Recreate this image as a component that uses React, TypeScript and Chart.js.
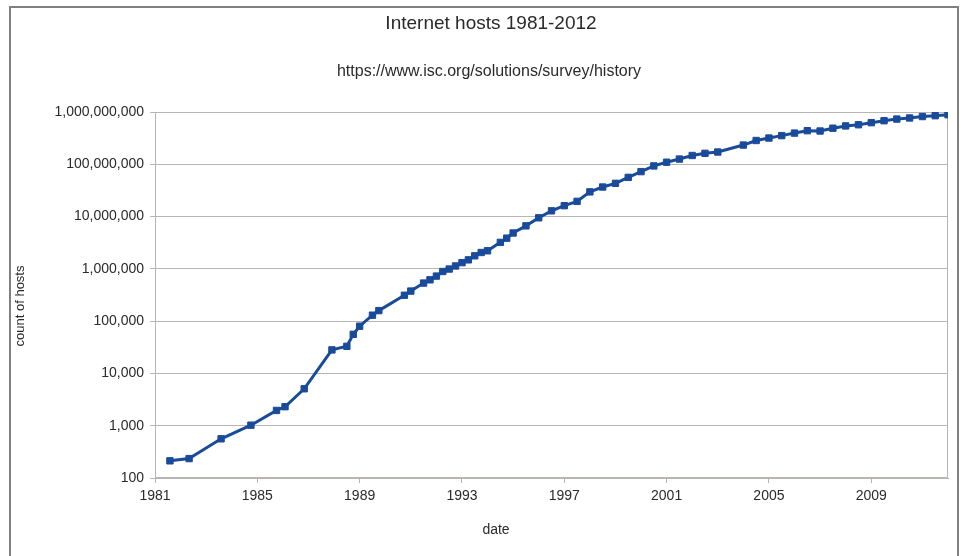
import React, { useEffect, useRef } from 'react';
import { Chart, registerables } from 'chart.js';
Chart.register(...registerables);

const TITLE = 'Internet hosts 1981-2012';
const SUBTITLE = 'https://www.isc.org/solutions/survey/history';
const X_TITLE = 'date';
const Y_TITLE = 'count of hosts';

const dates = [
  '1981-08', '1982-05', '1983-08', '1984-10', '1985-10', '1986-02', '1986-11', '1987-12',
  '1988-07', '1988-10', '1989-01', '1989-07', '1989-10', '1990-10', '1991-01', '1991-07',
  '1991-10', '1992-01', '1992-04', '1992-07', '1992-10', '1993-01', '1993-04', '1993-07',
  '1993-10', '1994-01', '1994-07', '1994-10', '1995-01', '1995-07', '1996-01', '1996-07',
  '1997-01', '1997-07', '1998-01', '1998-07', '1999-01', '1999-07', '2000-01', '2000-07',
  '2001-01', '2001-07', '2002-01', '2002-07', '2003-01', '2004-01', '2004-07', '2005-01',
  '2005-07', '2006-01', '2006-07', '2007-01', '2007-07', '2008-01', '2008-07', '2009-01',
  '2009-07', '2010-01', '2010-07', '2011-01', '2011-07', '2012-01',
];

const hosts = [
  213, 235, 562, 1024, 1961, 2308, 5089, 28174,
  33000, 56000, 80000, 130000, 159000, 313000, 376000, 535000,
  617000, 727000, 890000, 992000, 1136000, 1313000, 1486000, 1776000,
  2056000, 2217000, 3212000, 3864000, 4852000, 6642000, 9472000, 12881000,
  16146000, 19540000, 29670000, 36739000, 43230000, 56218000, 72398092, 93047785,
  109574429, 125888197, 147344723, 162128493, 171638297, 233101481, 285139107, 317646084,
  353284187, 394991609, 439286364, 433193199, 489774269, 541677360, 570937778, 625226456,
  681064561, 732740444, 768913036, 818374269, 849869781, 888239420,
];

const xTicks = [1981, 1985, 1989, 1993, 1997, 2001, 2005, 2009];
const yTicks = [100, 1000, 10000, 100000, 1000000, 10000000, 100000000, 1000000000];

const FONT = '"Liberation Sans", Arial, sans-serif';
const LINE = '#1a4b9b';
const GRID = '#b9b5b3';
const TEXT = '#2a2a2a';

const yearFrac = (d: string) => {
  const [y, m] = d.split('-').map(Number);
  return y + (m - 1) / 12;
};

const points = dates.map((d, i) => ({ x: yearFrac(d), y: hosts[i] }));

const decor = {
  id: 'decor',
  beforeDraw(chart: any) {
    const ctx = chart.ctx;
    ctx.save();
    ctx.fillStyle = '#ffffff';
    ctx.fillRect(0, 0, chart.width, chart.height);
    ctx.restore();
  },
  beforeDatasetsDraw(chart: any) {
    const { ctx, chartArea: a } = chart;
    ctx.save();
    ctx.strokeStyle = GRID;
    ctx.lineWidth = 1;
    ctx.strokeRect(a.left + 0.5, a.top + 0.5, a.right - a.left - 1, a.bottom - a.top - 1);
    ctx.restore();
  },
  afterDraw(chart: any) {
    const ctx = chart.ctx;
    ctx.save();
    // outer frame
    ctx.strokeStyle = '#808080';
    ctx.lineWidth = 2;
    ctx.beginPath();
    ctx.moveTo(10, chart.height);
    ctx.lineTo(10, 7);
    ctx.lineTo(958, 7);
    ctx.lineTo(958, chart.height);
    ctx.stroke();
    // titles
    ctx.fillStyle = TEXT;
    ctx.textAlign = 'center';
    ctx.textBaseline = 'alphabetic';
    ctx.font = `19px ${FONT}`;
    ctx.fillText(TITLE, 491, 29);
    ctx.font = `16px ${FONT}`;
    ctx.fillText(SUBTITLE, 489, 76);
    ctx.font = `14px ${FONT}`;
    ctx.textBaseline = 'middle';
    ctx.fillText(X_TITLE, 496, 530);
    ctx.translate(20, 306);
    ctx.rotate(-Math.PI / 2);
    ctx.font = `13px ${FONT}`;
    ctx.fillText(Y_TITLE, 0, 0);
    ctx.restore();
  },
};

export default function App() {
  const ref = useRef<HTMLCanvasElement>(null);
  useEffect(() => {
    const chart = new Chart(ref.current!, {
      type: 'line',
      data: {
        datasets: [
          {
            data: points,
            borderColor: LINE,
            backgroundColor: LINE,
            borderWidth: 3,
            pointStyle: 'rect',
            pointRadius: 4.5,
            pointBorderWidth: 1,
            pointBorderColor: LINE,
            pointBackgroundColor: LINE,
            tension: 0,
          },
        ],
      },
      options: {
        responsive: false,
        animation: false,
        layout: { padding: { left: 0, top: 112, right: 13, bottom: 38 } },
        plugins: { legend: { display: false }, tooltip: { enabled: false }, title: { display: false } },
        scales: {
          x: {
            type: 'linear',
            min: 1981,
            max: 2012,
            afterBuildTicks: (scale: any) => {
              scale.ticks = xTicks.map((v) => ({ value: v }));
            },
            afterFit: (scale: any) => {
              scale.height = 40;
            },
            grid: { drawOnChartArea: false, drawTicks: true, tickLength: 5, color: GRID },
            border: { display: true, color: GRID },
            ticks: {
              font: { family: FONT, size: 14 },
              color: TEXT,
              padding: 5,
              maxRotation: 0,
              autoSkip: false,
              callback: (v: any) => String(v),
            },
          },
          y: {
            type: 'logarithmic',
            min: 100,
            max: 1000000000,
            afterBuildTicks: (scale: any) => {
              scale.ticks = yTicks.map((v) => ({ value: v }));
            },
            afterFit: (scale: any) => {
              scale.width = 155;
            },
            grid: { drawTicks: true, tickLength: 5, color: GRID },
            border: { display: true, color: GRID },
            ticks: {
              font: { family: FONT, size: 14 },
              color: TEXT,
              padding: 6,
              autoSkip: false,
              callback: (v: any) => Number(v).toLocaleString('en-US'),
            },
          },
        },
      },
      plugins: [decor],
    });
    return () => chart.destroy();
  }, []);
  return (
    <div style={{ position: 'absolute', left: 0, top: 0, width: 961, height: 556, background: '#fff' }}>
      <canvas ref={ref} width={961} height={556} style={{ display: 'block' }} />
    </div>
  );
}
